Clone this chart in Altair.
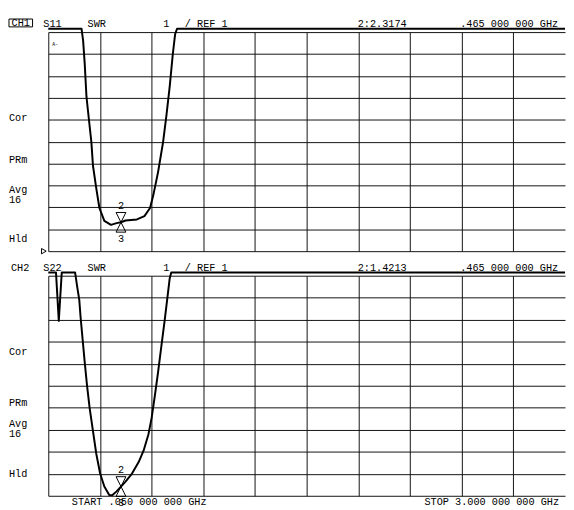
import altair as alt
import pandas as pd

FONT = "Liberation Mono"
FS = 10.4
CLIP = 11.15  # trace is drawn at this level when it runs off the top of the scale
OFF = 12.0    # off-scale reading (above full scale)

# ---- CH1 : S11 SWR ----
freq_s11 = [0.050, 0.240, 0.249, 0.258, 0.268, 0.282, 0.296, 0.305, 0.324, 0.342,
            0.370, 0.408, 0.440, 0.465, 0.491, 0.556, 0.599, 0.631, 0.650, 0.677,
            0.705, 0.724, 0.743, 0.761, 0.774, 0.785, 3.000]
swr_s11 = [OFF, OFF, 10.6, 9.56, 8.05, 7.01, 5.98, 4.91, 3.87, 2.97,
           2.38, 2.20, 2.28, 2.32, 2.40, 2.45, 2.60, 2.97, 3.57, 4.62,
           5.96, 7.16, 8.50, 10.0, 10.9, OFF, OFF]

# ---- CH2 : S22 SWR ----
freq_s22 = [0.050, 0.094, 0.110, 0.127, 0.203, 0.215, 0.227, 0.234, 0.246, 0.258,
            0.271, 0.286, 0.305, 0.324, 0.346, 0.370, 0.398, 0.415, 0.440, 0.465,
            0.491, 0.528, 0.566, 0.594, 0.622, 0.640, 0.659, 0.677, 0.696, 0.715,
            0.733, 0.743, 0.752, 3.000]
swr_s22 = [OFF, OFF, 8.95, OFF, OFF, 10.5, 9.90, 9.16, 8.11, 7.07,
           6.03, 4.99, 3.95, 2.91, 2.01, 1.42, 1.04, 1.02, 1.20, 1.42,
           1.64, 2.01, 2.53, 3.05, 3.80, 4.54, 5.58, 6.63, 7.82, 9.00,
           10.2, 10.87, OFF, OFF]

marker_freq = [0.465]
marker_s11 = [2.3174]
marker_s22 = [1.4213]

grid_freq = [round(0.05 + 0.295 * k, 4) for k in range(10)]
grid_swr = list(range(1, 12))

header_s11 = ["CH1", "S11", "SWR", "1", "/ REF 1", "2:2.3174", ".465 000 000 GHz"]
header_s22 = ["CH2", "S22", "SWR", "1", "/ REF 1", "2:1.4213", ".465 000 000 GHz"]
side_labels = ["Cor", "PRm", "Avg", "16", "Hld"]
start_label = "START .050 000 000 GHz"
stop_label = "STOP 3.000 000 000 GHz"

W = 526
H1 = 223
H2 = 224

XS = alt.Scale(domain=[0.05, 3.0], nice=False, zero=False)
YS = alt.Scale(domain=[1, 11], nice=False, zero=False)


def xenc(field):
    return alt.X(f"{field}:Q", scale=XS,
                 axis=alt.Axis(values=grid_freq, grid=True, labels=False, ticks=False,
                               domain=False, title=None, gridColor="#111111",
                               gridWidth=1, gridOpacity=1))


def yenc(field):
    return alt.Y(f"{field}:Q", scale=YS,
                 axis=alt.Axis(values=grid_swr, grid=True, labels=False, ticks=False,
                               domain=False, title=None, gridColor="#111111",
                               gridWidth=1, gridOpacity=1))


def txt(s, x, y, align="left", baseline="alphabetic", size=FS):
    return alt.Chart(pd.DataFrame({"t": [s]})).mark_text(
        align=align, baseline=baseline, font=FONT, fontSize=size, color="black"
    ).encode(x=alt.value(x), y=alt.value(y), text="t:N")


def panel(freqs, swrs, mk_swr, header, side_y, H, first):
    df = pd.DataFrame({"freq": freqs, "swr": swrs})
    trace = alt.Chart(df).transform_calculate(
        shown=f"min(datum.swr, {CLIP})"
    ).mark_line(color="black", strokeWidth=2, strokeJoin="round").encode(
        x=xenc("freq"), y=yenc("shown"))

    mdf = pd.DataFrame({"freq": marker_freq, "swr": mk_swr})
    down = alt.Chart(mdf).mark_point(shape="M-1,-2L1,-2L0,0Z", filled=False, size=100,
                                     color="black", strokeWidth=1, opacity=1).encode(
        x=xenc("freq"), y=yenc("swr"))
    up = alt.Chart(mdf).mark_point(shape="M-1,2L1,2L0,0Z", filled=False, size=100,
                                   color="black", strokeWidth=1, opacity=1).encode(
        x=xenc("freq"), y=yenc("swr"))
    lab2 = alt.Chart(pd.DataFrame({"freq": marker_freq, "swr": mk_swr, "t": ["2"]})).mark_text(
        font=FONT, fontSize=FS, color="black", dy=-17, baseline="middle").encode(
        x=xenc("freq"), y=yenc("swr"), text="t:N")
    lab3 = alt.Chart(pd.DataFrame({"freq": marker_freq, "swr": mk_swr, "t": ["3"]})).mark_text(
        font=FONT, fontSize=FS, color="black", dy=17, baseline="middle").encode(
        x=xenc("freq"), y=yenc("swr"), text="t:N")

    layers = [trace, down, up, lab2, lab3]

    hy = -5
    if first:
        layers.append(txt(header[0], -28, -6.3, align="center"))
        box = alt.Chart(pd.DataFrame({"a": [0]})).mark_rect(
            filled=False, color="black", strokeWidth=1).encode(
            x=alt.value(-40), x2=alt.value(-16), y=alt.value(-13.3), y2=alt.value(-5.3))
        layers.append(box)
        ref = alt.Chart(pd.DataFrame({"a": [0]})).mark_point(
            shape="triangle-right", filled=False, size=30, color="black",
            strokeWidth=1, opacity=1).encode(x=alt.value(-4.5), y=alt.value(H))
        layers.append(ref)
        layers.append(txt("A-", 4, 14, size=5))
    else:
        layers.append(txt(header[0], -38, hy))
    xs = [-5, 40, 117, 139, 315]
    for s, x in zip(header[1:6], xs):
        layers.append(txt(s, x, hy))
    layers.append(txt(header[6], 519, hy, align="right"))

    for s, y in zip(side_labels, side_y):
        layers.append(txt(s, -40, y, baseline="middle"))

    if not first:
        layers.append(txt(start_label, 24, H + 9))
        layers.append(txt(stop_label, 520, H + 9, align="right"))

    return alt.layer(*layers).properties(width=W, height=H)


p1 = panel(freq_s11, swr_s11, marker_s11, header_s11, [87, 130, 161, 171, 211], H1, True)
p2 = panel(freq_s22, swr_s22, marker_s22, header_s22, [78, 130, 151, 161, 202], H2, False)

chart = alt.vconcat(p1, p2, spacing=25, bounds="flush").configure_view(
    stroke=None
).properties(
    padding={"left": 0, "top": 5, "right": 0, "bottom": 0},
    background="white",
)

chart.save("out.html", embed_options={"renderer": "svg", "actions": False})
